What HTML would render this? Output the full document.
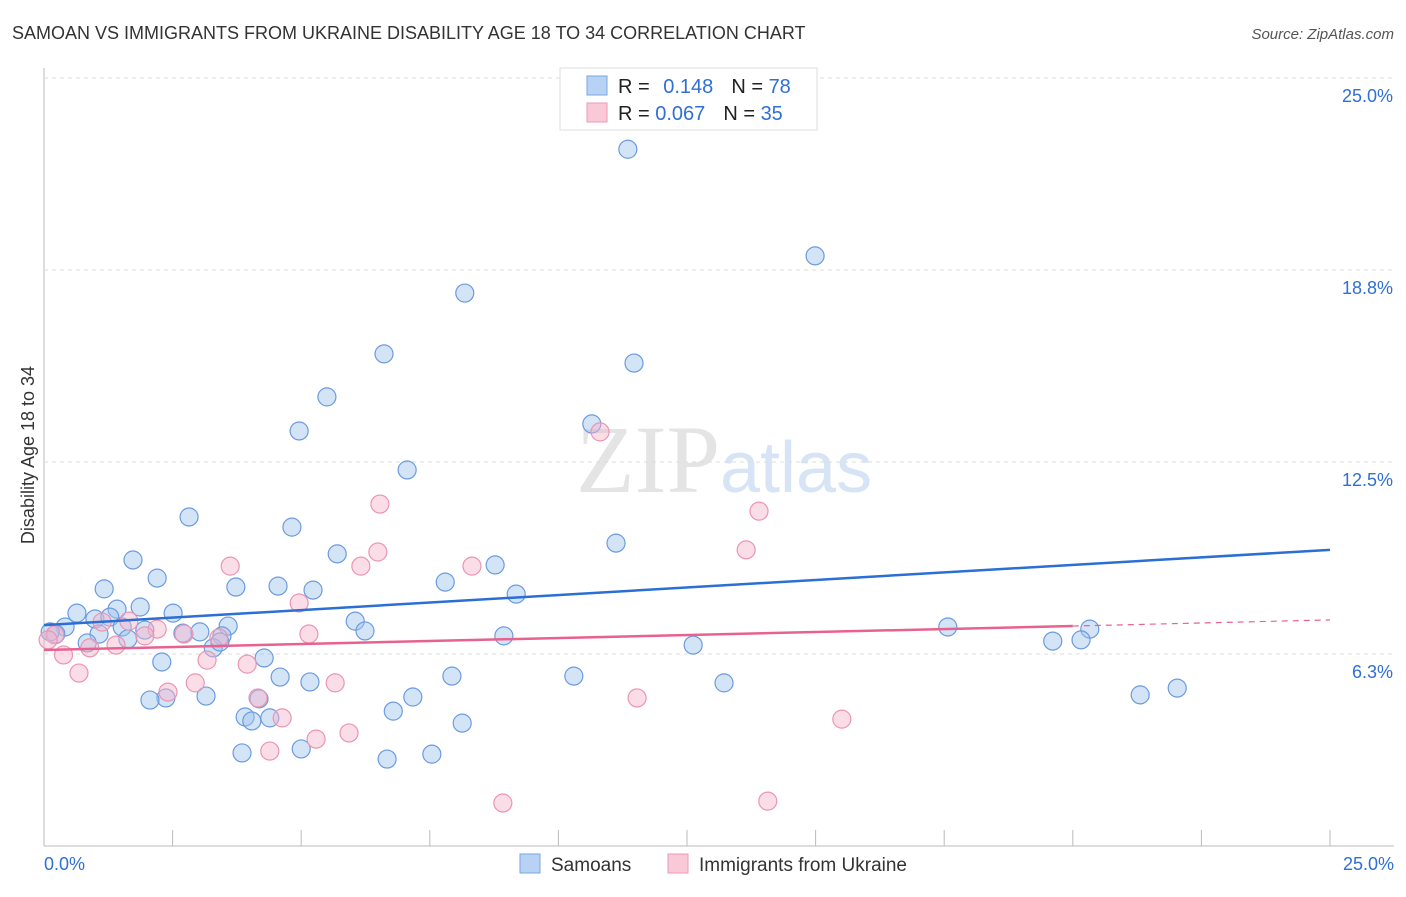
<!DOCTYPE html>
<html><head><meta charset="utf-8"><style>
body{margin:0;background:#fff;font-family:"Liberation Sans",sans-serif}
</style></head><body>
<svg width="1406" height="892" xmlns="http://www.w3.org/2000/svg" id="chart">
<text x="12" y="39" font-size="18" fill="#333">SAMOAN VS IMMIGRANTS FROM UKRAINE DISABILITY AGE 18 TO 34 CORRELATION CHART</text>
<text x="1394" y="39" font-size="15" fill="#555" text-anchor="end" font-style="italic">Source: ZipAtlas.com</text>
<text x="720" y="492" font-size="96" fill="#e4e4e4" text-anchor="end" font-family="Liberation Serif,serif">ZIP</text>
<text x="720" y="492" font-size="72" fill="#d6e4f5">atlas</text>
<text transform="translate(34,455) rotate(-90)" font-size="18" fill="#333" text-anchor="middle">Disability Age 18 to 34</text>
<g id="grid"></g><g id="pts"></g><g id="lines"></g>
<g>
<rect x="560" y="68" width="257" height="62" fill="#fff" stroke="#ddd"/>
<rect x="587" y="76" width="20" height="19" fill="#b7d2f4" stroke="#7ba6e0"/>
<rect x="587" y="103" width="20" height="19" fill="#f9c9d8" stroke="#ee9ab5"/>
<text x="618" y="93" font-size="20" fill="#222">R = <tspan fill="#2f6fd6" dx="8">0.148</tspan><tspan dx="18" fill="#222">N = </tspan><tspan fill="#2f6fd6">78</tspan></text>
<text x="618" y="120" font-size="20" fill="#222">R = <tspan fill="#2f6fd6">0.067</tspan><tspan dx="18" fill="#222">N = </tspan><tspan fill="#2f6fd6">35</tspan></text>
</g>
<g>
<rect x="520" y="854" width="20" height="19" fill="#b7d2f4" stroke="#7ba6e0"/>
<text x="551" y="871" font-size="19" fill="#333">Samoans</text>
<rect x="668" y="854" width="20" height="19" fill="#f9c9d8" stroke="#ee9ab5"/>
<text x="699" y="871" font-size="19" fill="#333">Immigrants from Ukraine</text>
</g>
</svg>
<script>
const yTicks=[6.25,12.5,18.75,25];
const yTickLabels=["6.3%","12.5%","18.8%","25.0%"];
const xTickLabels=["0.0%","25.0%"];
const blueX=[11.35,14.99,8.18,6.61,11.47,5.50,4.96,10.65,7.06,2.82,4.82,11.12,5.70,1.73,8.77,2.20,1.17,3.73,4.55,5.23,7.80,9.18,1.87,0.64,1.42,2.51,0.99,1.28,3.58,6.05,0.41,1.52,1.96,2.70,3.03,3.46,1.07,0.23,0.12,1.63,0.84,6.24,3.29,3.42,8.94,17.57,20.33,19.61,20.16,12.62,2.29,4.28,4.59,5.17,7.93,10.30,13.22,3.15,2.37,2.06,4.18,7.17,22.03,21.31,6.79,3.91,4.04,4.39,8.13,3.85,5.0,6.67,7.54];
const blueY=[22.68,19.21,18.0,16.02,15.72,14.62,13.51,13.74,12.24,10.71,10.38,9.86,9.51,9.31,9.15,8.72,8.37,8.43,8.46,8.33,8.59,8.20,7.78,7.58,7.71,7.58,7.39,7.45,7.16,7.32,7.13,7.13,7.03,6.93,6.97,6.84,6.90,6.90,6.97,6.74,6.61,7.0,6.45,6.64,6.84,7.13,7.06,6.67,6.71,6.54,5.99,6.12,5.50,5.34,5.53,5.53,5.31,4.88,4.82,4.75,4.79,4.85,5.14,4.92,4.39,4.20,4.07,4.17,4.0,3.03,3.16,2.83,2.99];
const pinkX=[10.81,6.53,13.90,6.49,13.65,3.62,6.16,8.32,4.96,1.65,1.13,2.20,1.96,2.72,3.40,5.15,0.21,0.08,0.38,1.40,0.89,3.17,3.95,0.68,2.94,2.41,5.66,4.16,11.53,4.63,15.51,5.93,5.29,4.39,8.92,14.07];
const pinkY=[13.48,11.13,10.90,9.57,9.64,9.11,9.11,9.11,7.91,7.32,7.29,7.06,6.84,6.90,6.77,6.90,6.87,6.71,6.22,6.54,6.45,6.05,5.92,5.63,5.31,5.01,5.31,4.82,4.82,4.17,4.13,3.68,3.48,3.09,1.40,1.46];
const blueTrend=[[0,7.19],[25,9.64]];
const pinkTrend=[[0,6.38],[20,7.16]];
const pinkTrendExt=[[20,7.16],[25,7.36]];
const X0=44,X1=1330,Y0=846,Y1=78;
const sx=v=>X0+(X1-X0)*v/25, sy=v=>Y0-(Y0-Y1)*v/25;
const NS="http://www.w3.org/2000/svg";
function mk(p,t,a){const e=document.createElementNS(NS,t);for(const k in a)e.setAttribute(k,a[k]);p.appendChild(e);return e;}
const g=document.getElementById('grid');
let ax=mk(g,'line',{x1:X0,y1:68,x2:X0,y2:Y0,stroke:'#bbb'});


let bx=mk(g,'line',{x1:X0,y1:Y0,x2:1394,y2:Y0,stroke:'#bbb'});


yTicks.forEach((t,i)=>{
 const l=mk(g,'line',{x1:X0,y1:sy(t),x2:1394,y2:sy(t),stroke:'#ddd','stroke-dasharray':'4,4'});
 
 
 const tx=mk(g,'text',{x:1393,y:sy(t)+24,'font-size':18,fill:'#2f6fd6','text-anchor':'end'});tx.textContent=yTickLabels[i];
 
 
});
for(let i=0;i<=10;i++){const x=sx(i*2.5);const l=mk(g,'line',{x1:x,y1:830,x2:x,y2:Y0,stroke:'#bbb'});
 
 }
[[0,'start',44],[25,'end',1394]].forEach((d,i)=>{const t=mk(g,'text',{x:d[2],y:870,'font-size':18,fill:'#2f6fd6','text-anchor':d[1]});t.textContent=xTickLabels[i];
 
 });
const pg=document.getElementById('pts');
blueX.forEach((v,i)=>{const c=mk(pg,'circle',{cx:sx(v),cy:sy(blueY[i]),r:9,fill:'rgba(160,195,238,0.45)',stroke:'#6b9be0','stroke-width':1.2});
 
 });
pinkX.forEach((v,i)=>{const c=mk(pg,'circle',{cx:sx(v),cy:sy(pinkY[i]),r:9,fill:'rgba(246,180,202,0.45)',stroke:'#eb95b2','stroke-width':1.2});
 
 });
const lg=document.getElementById('lines');
let l1=mk(lg,'line',{x1:sx(blueTrend[0][0]),y1:sy(blueTrend[0][1]),x2:sx(blueTrend[1][0]),y2:sy(blueTrend[1][1]),stroke:'#2b6fd4','stroke-width':2.5});


let l2=mk(lg,'line',{x1:sx(pinkTrend[0][0]),y1:sy(pinkTrend[0][1]),x2:sx(pinkTrend[1][0]),y2:sy(pinkTrend[1][1]),stroke:'#e8628f','stroke-width':2.5});


let l3=mk(lg,'line',{x1:sx(pinkTrendExt[0][0]),y1:sy(pinkTrendExt[0][1]),x2:sx(pinkTrendExt[1][0]),y2:sy(pinkTrendExt[1][1]),stroke:'#e8628f','stroke-width':1.2,'stroke-dasharray':'6,5'});


</script>
</body></html>
